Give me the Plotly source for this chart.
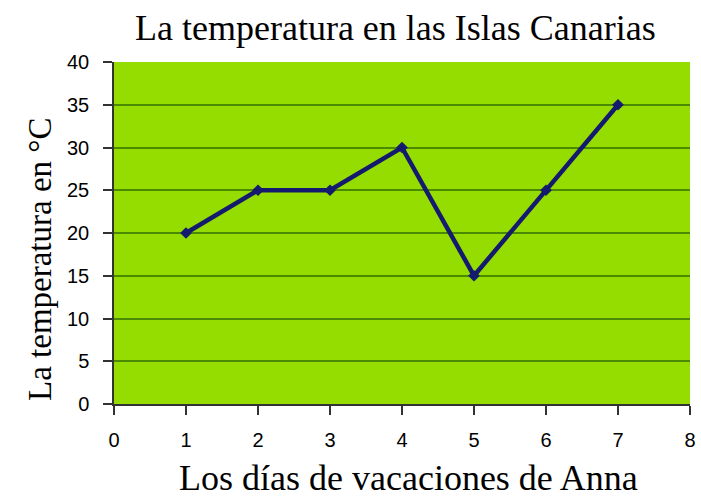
import plotly.graph_objects as go

days = [1, 2, 3, 4, 5, 6, 7]
temps = [20, 25, 25, 30, 15, 25, 35]
x_ticks = [0, 1, 2, 3, 4, 5, 6, 7, 8]
y_ticks = [0, 5, 10, 15, 20, 25, 30, 35, 40]

fig = go.Figure()
fig.add_trace(go.Scatter(
    x=days, y=temps, mode="lines+markers",
    line=dict(color="#141a6e", width=4.5),
    marker=dict(symbol="diamond", size=9, color="#141a6e"),
    showlegend=False,
))

serif = "Liberation Serif"
fig.update_layout(
    width=701, height=502,
    margin=dict(l=114, r=11, t=62, b=98),
    paper_bgcolor="white",
    plot_bgcolor="#95dc00",
    font=dict(family="Liberation Sans", size=20, color="black"),
    annotations=[
        dict(text="La temperatura en las Islas Canarias", xref="paper", yref="paper",
             x=0.488, y=1.0994, xanchor="center", yanchor="middle", showarrow=False,
             font=dict(family=serif, size=36, color="black")),
        dict(text="Los días de vacaciones de Anna", xref="paper", yref="paper",
             x=0.512, y=-0.2164, xanchor="center", yanchor="middle", showarrow=False,
             font=dict(family=serif, size=36, color="black")),
        dict(text="La temperatura en °C", xref="paper", yref="paper",
             x=-0.1285, y=0.424, xanchor="center", yanchor="middle", showarrow=False,
             textangle=-90, font=dict(family=serif, size=33, color="black")),
    ],
)
fig.update_xaxes(
    range=[0, 8], tickvals=x_ticks, showgrid=False, zeroline=False,
    showline=True, linecolor="#333333", linewidth=1.5, automargin=False,
    ticks="outside", ticklen=9, tickcolor="#333333", tickwidth=1.5,
    ticklabelstandoff=8, ticklabeloverflow="allow",
)
fig.update_yaxes(
    range=[0, 40], tickvals=y_ticks, showgrid=True, gridcolor="#4a8a00", gridwidth=1.5,
    zeroline=False, showline=True, linecolor="#333333", linewidth=1.5, automargin=False,
    ticks="outside", ticklen=9, tickcolor="#333333", tickwidth=1.5,
    ticklabelstandoff=10, ticklabeloverflow="allow",
)

fig.write_html("out.html", config={"displayModeBar": False},
               post_script="document.body.style.margin='0';")
